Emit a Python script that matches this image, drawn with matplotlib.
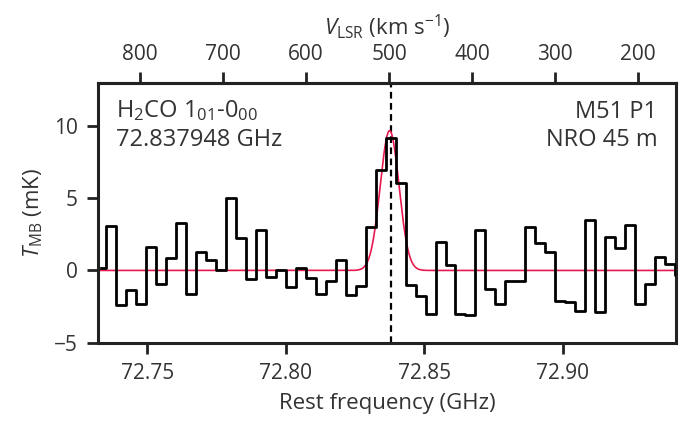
import numpy as np
import matplotlib
matplotlib.use("Agg")
import matplotlib.pyplot as plt

plt.rcParams['font.family'] = ['Open Sans', 'DejaVu Sans']
plt.rcParams['mathtext.fontset'] = 'custom'
plt.rcParams['mathtext.rm'] = 'Open Sans'
plt.rcParams['mathtext.it'] = 'Open Sans:italic'
plt.rcParams['axes.unicode_minus'] = True

# spectrum: first channel centre (GHz), channel width (GHz), T_MB (mK)
first_chan = 72.73322
chan_width = 0.003608
tmb = [0.2, 3.1, -2.4, -1.35, -2.3, 1.6, -0.95, 0.85, 3.3, -1.65,
       1.3, 0.75, 0.0, 5.0, 2.25, -0.6, 2.8, -0.45, 0.05, -1.15,
       0.2, -0.55, -1.65, -0.7, 0.7, -1.7, -1.1, 3.0, 7.0, 9.2,
       6.05, -1.0, -1.75, -3.05, 2.0, 0.4, -3.0, -3.1, 2.8, -1.3,
       -2.3, -0.75, -0.75, 3.0, 1.9, 1.3, -2.15, -2.2, -2.8, 3.5,
       -2.85, 2.3, 1.55, 3.15, -2.3, -0.95, 0.9, 0.45, -0.35]

# gaussian fit
fit_amp = 9.7
fit_centre = 72.8375
fit_fwhm = 0.0080

rest_freq = 72.837948
v_ref = 500.0          # km/s at f_ref
f_ref = 72.8373
kms_per_ghz = 3333.0

vel_ticks = [800, 700, 600, 500, 400, 300, 200]
freq_ticks = [72.75, 72.80, 72.85, 72.90]

freq = first_chan + chan_width * np.arange(len(tmb))

fig = plt.figure(figsize=(6.83, 4.26), dpi=100)
ax = fig.add_axes([0.1442, 0.196, 0.8456, 0.609])

ax.axvline(rest_freq, color='k', ls=(0, (3, 2)), lw=1.6, zorder=1)

fgrid = np.linspace(72.70, 72.98, 2000)
sig = fit_fwhm / 2.3548
ax.plot(fgrid, fit_amp * np.exp(-0.5 * ((fgrid - fit_centre) / sig) ** 2),
        color='#e8194f', lw=1.2, zorder=2)

ax.step(freq, tmb, where='mid', color='k', lw=2.0, zorder=3)

ax.set_xlim(72.7323, 72.941)
ax.set_ylim(-5, 13)
ax.set_xticks(freq_ticks)
ax.set_xticklabels(['%.2f' % f for f in freq_ticks])
ax.set_yticks([-5, 0, 5, 10])

for s in ax.spines.values():
    s.set_linewidth(2.2)
    s.set_color('#222222')
ax.tick_params(width=2.0, length=8, labelsize=15, color='#222222',
               labelcolor='#333333', pad=7)

ax.set_xlabel('Rest frequency (GHz)', fontsize=16, color='#333333',
              labelpad=6)
ax.set_ylabel(r'$T_{\rm MB}$ (mK)', fontsize=16, color='#333333',
              labelpad=6)

top = ax.secondary_xaxis(
    'top',
    functions=(lambda f: v_ref + (f_ref - f) * kms_per_ghz,
               lambda v: f_ref - (v - v_ref) / kms_per_ghz))
top.set_xticks(vel_ticks)
top.tick_params(width=2.0, length=8, labelsize=15, color='#222222',
                labelcolor='#333333', pad=5)
top.spines['top'].set_linewidth(2.2)
top.set_xlabel(r'$V_{\rm LSR}$ (km s$^{-1}$)', fontsize=16,
               color='#333333', labelpad=7)

tkw = dict(transform=ax.transAxes, fontsize=17, color='#333333',
           va='baseline')
ax.text(0.030, 0.867, r'H$_2$CO 1$_{01}$-0$_{00}$', ha='left', **tkw)
ax.text(0.030, 0.759, '72.837948 GHz', ha='left', **tkw)
ax.text(0.968, 0.867, 'M51 P1', ha='right', **tkw)
ax.text(0.968, 0.759, 'NRO 45 m', ha='right', **tkw)

fig.savefig('out.png', dpi=100)
